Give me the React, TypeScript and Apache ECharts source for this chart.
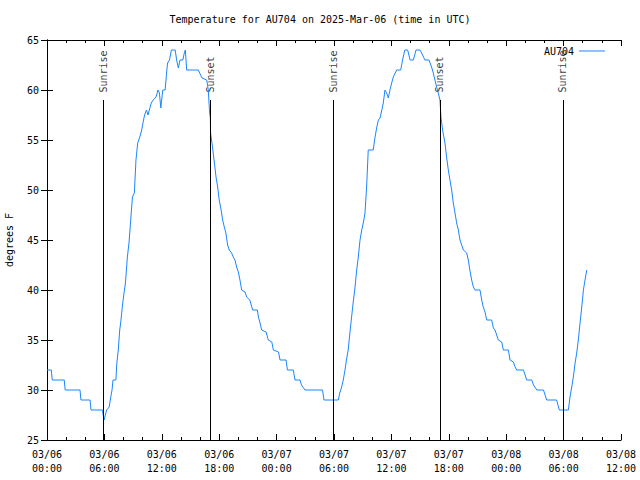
import React, { useEffect, useRef } from "react";
import * as echarts from "echarts";

// Hours since 03/06 00:00 UTC
const hours: number[] = [
  0.0, 0.45, 0.55, 1.8, 1.9, 3.45, 3.55, 4.5, 4.6, 5.8, 5.9, 5.96, 6.1, 6.24, 6.5, 6.7, 6.8, 6.9, 7.2, 7.3,
  7.45, 7.6, 7.7, 7.87, 8.05, 8.2, 8.4, 8.57, 8.75, 8.93, 9.13, 9.3, 9.48, 9.7, 9.9, 10.05, 10.2, 10.4, 10.55, 10.7,
  10.9, 11.1, 11.4, 11.6, 11.75, 11.9, 12.1, 12.35, 12.5, 12.6, 12.8, 13.0, 13.4, 13.55, 13.73, 13.9, 14.2, 14.35, 14.46, 14.6,
  15.82, 16.2, 16.7, 16.86, 17.0, 17.07, 17.1, 17.3, 17.5, 17.67, 17.84, 18.0, 18.2, 18.36, 18.53, 18.7, 18.88, 19.05, 19.3, 19.47,
  19.65, 19.82, 20.0, 20.17, 20.35, 20.7, 20.87, 21.2, 21.5, 21.99, 22.1, 22.27, 22.44, 22.9, 23.13, 23.5, 23.66, 24.2, 24.36, 24.99,
  25.13, 25.75, 25.92, 26.45, 26.6, 26.97, 28.8, 28.95, 30.45, 30.6, 30.8, 30.97, 31.15, 31.3, 31.48, 31.66, 31.84, 32.0, 32.2, 32.37,
  32.54, 32.72, 32.9, 33.06, 33.24, 33.41, 33.58, 34.1, 34.29, 34.46, 34.64, 34.81, 35.0, 35.15, 35.33, 35.5, 35.68, 35.85, 36.03, 36.2,
  36.55, 36.97, 37.17, 37.4, 37.7, 37.95, 38.3, 38.57, 38.99, 39.16, 39.5, 39.93, 40.2, 40.38, 40.55, 40.73, 40.9, 41.08, 41.18, 41.35,
  41.6, 41.77, 41.95, 42.12, 42.3, 42.47, 42.65, 42.82, 43.0, 43.17, 43.35, 43.52, 43.87, 44.04, 44.2, 44.39, 44.57, 44.74, 45.26, 45.44,
  45.6, 45.79, 45.96, 46.48, 46.66, 46.83, 47.18, 47.53, 47.7, 48.23, 48.4, 48.75, 48.93, 49.1, 49.8, 50.15, 50.67, 50.85, 51.2, 51.9,
  52.23, 53.27, 53.55, 54.5, 54.67, 54.85, 55.02, 55.2, 55.37, 55.54, 55.72, 55.9, 56.07, 56.24, 56.42,
];

const temps: number[] = [
  32, 32, 31, 31, 30, 30, 29, 29, 28, 28, 27.3, 27, 27.5, 28, 28.3, 29.5, 30, 31, 31, 32.7,
  34, 36, 36.7, 38.3, 39.7, 40.7, 43.3, 44.7, 47, 49.3, 49.7, 53, 54.7, 55.3, 56, 56.8, 57.5, 58, 57.5, 58,
  58.7, 59, 59.3, 60, 59.7, 58.2, 60, 60, 61.7, 62.7, 63, 64, 64, 63, 62.2, 63, 63, 63.7, 64, 62,
  62, 61.2, 61, 60, 57.7, 57.3, 55.7, 54.3, 52.7, 51.3, 50.3, 49, 48, 47, 46.3, 45.7, 44.5, 44, 43.7, 43.3,
  43, 42.3, 41.8, 41, 40, 39.8, 39.3, 39, 38, 38, 37.3, 36.7, 36, 35.8, 35, 34.8, 34, 33.8, 33, 33,
  32, 32, 31, 31, 30.5, 30, 30, 29, 29, 29.7, 30.3, 31, 32, 33, 34, 35.7, 37.3, 38.7, 40.3, 42,
  43.3, 45, 46, 46.7, 47.7, 50.3, 54, 54, 55.3, 56.2, 57, 57.2, 58, 58.7, 60, 59.7, 59.2, 60, 60.7, 61.3,
  62, 62, 63, 64, 64, 63, 63, 64, 64, 63.7, 63, 63, 62.3, 61.7, 61, 60.3, 59.7, 59, 57.3, 56,
  54.7, 53.3, 52, 51, 50, 48.7, 47.7, 46.7, 46, 45, 44.5, 44, 43.7, 43, 42, 41, 40.3, 40, 40, 39,
  38.3, 37.8, 37, 37, 36.2, 36, 35, 34.8, 34, 34, 33, 32.8, 32.3, 32, 32, 31, 31, 30.5, 30, 30,
  29, 29, 28, 28, 29.3, 30.3, 31.3, 32.7, 33.7, 35, 36.7, 38.3, 40, 41, 42,
];

const eventTimes: number[] = [5.88, 17.07, 29.92, 41.08, 53.93];
const eventNames: string[] = ["Sunrise", "Sunset", "Sunrise", "Sunset", "Sunrise"];
const eventBottom = 25;
const eventTop = 59;

const xTickLabels: string[] = [
  "03/06\n00:00", "03/06\n06:00", "03/06\n12:00", "03/06\n18:00",
  "03/07\n00:00", "03/07\n06:00", "03/07\n12:00", "03/07\n18:00",
  "03/08\n00:00", "03/08\n06:00", "03/08\n12:00",
];

const FONT = "DejaVu Sans Mono";
const LINE_COLOR = "#1a86ff";

export default function App() {
  const ref = useRef<HTMLDivElement>(null);
  useEffect(() => {
    if (!ref.current) return;
    const chart = echarts.init(ref.current, null, { renderer: "svg" });
    const lineData = hours.map((h, i) => [h, temps[i]]);
    const axisLine = { show: true, lineStyle: { color: "#000", width: 1 } };
    chart.setOption({
      animation: false,
      backgroundColor: "#fff",
      textStyle: { fontFamily: FONT },
      title: {
        text: "Temperature for AU704 on 2025-Mar-06 (time in UTC)",
        left: "center",
        top: 9,
        textStyle: { fontFamily: FONT, fontSize: 10, fontWeight: "normal", color: "#000" },
      },
      legend: {
        data: [{ name: "AU704", icon: "rect" }],
        right: 30,
        top: 41,
        align: "right",
        itemWidth: 26,
        itemHeight: 1,
        itemGap: 8,
        itemStyle: { color: LINE_COLOR },
        textStyle: { fontFamily: FONT, fontSize: 10, color: "#000", fontWeight: "normal" },
      },
      grid: { left: 47, right: 19, top: 40, bottom: 40, containLabel: false, outerBoundsMode: "none" },
      xAxis: [
        {
          type: "value",
          min: 0,
          max: 60,
          interval: 6,
          position: "bottom",
          axisLine,
          axisTick: { show: true, inside: true, length: 6, lineStyle: { color: "#000" } },
          minorTick: { show: true, splitNumber: 3, length: 3, lineStyle: { color: "#000" } },
          splitLine: { show: false },
          axisLabel: {
            color: "#000",
            fontFamily: FONT,
            fontSize: 10,
            lineHeight: 14,
            margin: 7,
            formatter: (v: number) => xTickLabels[Math.round(v / 6)] ?? "",
          },
        },
        {
          type: "value",
          min: 0,
          max: 60,
          interval: 6,
          position: "top",
          axisLine,
          axisTick: { show: true, inside: true, length: 6, lineStyle: { color: "#000" } },
          minorTick: { show: true, splitNumber: 3, length: 3, lineStyle: { color: "#000" } },
          splitLine: { show: false },
          axisLabel: { show: false },
        },
      ],
      yAxis: [
        {
          type: "value",
          min: 25,
          max: 65,
          interval: 5,
          position: "left",
          name: "degrees F",
          nameLocation: "middle",
          nameGap: 33,
          nameRotate: 90,
          nameTextStyle: { fontFamily: FONT, fontSize: 10, color: "#000" },
          axisLine,
          axisTick: { show: true, inside: true, length: 6, lineStyle: { color: "#000" } },
          splitLine: { show: false },
          axisLabel: { color: "#000", fontFamily: FONT, fontSize: 10, margin: 8 },
        },
        {
          type: "value",
          min: 25,
          max: 65,
          interval: 5,
          position: "right",
          axisLine,
          axisTick: { show: true, inside: true, length: 6, lineStyle: { color: "#000" } },
          splitLine: { show: false },
          axisLabel: { show: false },
        },
      ],
      series: [
        {
          name: "events",
          type: "scatter",
          xAxisIndex: 0,
          yAxisIndex: 0,
          symbolSize: 1,
          silent: true,
          itemStyle: { color: "rgba(0,0,0,0)" },
          data: eventTimes.map((t, i) => [t, eventTop, eventNames[i]]),
          label: {
            show: true,
            position: "top",
            distance: 7,
            rotate: 90,
            align: "left",
            verticalAlign: "middle",
            color: "#000",
            fontFamily: FONT,
            fontSize: 10,
            formatter: (p: any) => p.value[2],
          },
          markLine: {
            silent: true,
            symbol: "none",
            label: { show: false },
            lineStyle: { color: "#000", width: 1, type: "solid" },
            data: eventTimes.map((t) => [{ coord: [t, eventBottom] }, { coord: [t, eventTop] }]),
          },
          z: 1,
        },
        {
          name: "AU704",
          type: "line",
          xAxisIndex: 0,
          yAxisIndex: 0,
          data: lineData,
          symbol: "none",
          showSymbol: false,
          lineStyle: { color: LINE_COLOR, width: 1 },
          itemStyle: { color: LINE_COLOR },
          z: 3,
        },
      ],
    });
    return () => chart.dispose();
  }, []);
  return <div ref={ref} style={{ width: 640, height: 480, position: "absolute", left: 0, top: 0 }} />;
}
